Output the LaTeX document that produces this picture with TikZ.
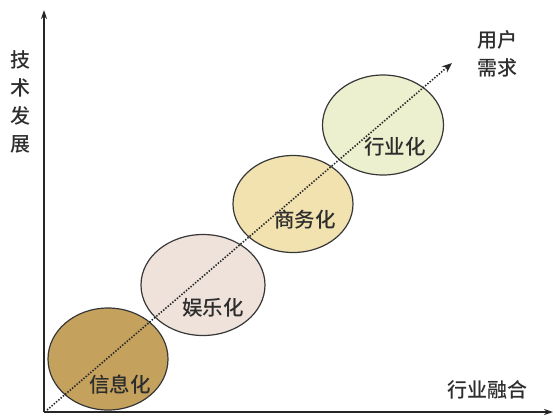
\documentclass[tikz,border=0pt]{standalone}
\usepackage{fontspec}
\usepackage{xcolor}
\usepackage{tikz}
\usetikzlibrary{shapes.geometric,arrows.meta}
\newfontfamily\cjk{Noto Sans CJK SC Medium}
\definecolor{xinxigold}{RGB}{196, 162, 94}
\definecolor{yulepink}{RGB}{238, 226, 219}
\definecolor{shangwutan}{RGB}{241, 226, 176}
\definecolor{hangyegreen}{RGB}{236, 240, 206}
\definecolor{rimgray}{RGB}{55, 55, 55}
\definecolor{textgray}{RGB}{45, 45, 45}

\begin{document}
\begin{tikzpicture}[
    x=1pt, y=-1pt,
    stage/.style={ellipse, draw=rimgray, line width=1.2pt, inner sep=0pt},
    stagetext/.style={font=\cjk\fontsize{20.5}{22}\selectfont, text=textgray, inner sep=0pt},
    axislabel/.style={font=\cjk\fontsize{20}{28}\selectfont, text=textgray, align=center, inner sep=0pt},
    axis/.style={-{Stealth[length=9pt, width=6pt]}, line width=2pt, black!85},
    trend/.style={-{Stealth[length=10pt, width=8pt]}, line width=1.6pt, dash pattern=on 1.4pt off 1.6pt, black!85}
]
    \useasboundingbox (0,0) rectangle (553,418);

    % Stages
    \node[stage, fill=xinxigold, minimum width=120, minimum height=102] (xinxi) at (108, 359) {};
    \node[stage, fill=yulepink, minimum width=124, minimum height=101] (yule) at (203, 285) {};
    \node[stage, fill=shangwutan, minimum width=120, minimum height=97] (shangwu) at (293, 204) {};
    \node[stage, fill=hangyegreen, minimum width=121, minimum height=100] (hangye) at (383, 125) {};

    % Axes
    \coordinate (origin) at (44, 412);
    \coordinate (ytop) at (44, 10);
    \coordinate (xend) at (553, 412);
    \coordinate (tstart) at (47, 410);
    \coordinate (ttip) at (452, 63);
    \draw[axis] (origin) -- (ytop);
    \draw[axis] (origin) -- (xend);
    \draw[trend] (tstart) -- (ttip);

    % Texts
    \node[stagetext] (xinxi_txt) at (120, 385) {信息化};
    \node[stagetext] (yule_txt) at (213, 308) {娱乐化};
    \node[stagetext] (shangwu_txt) at (305, 220) {商务化};
    \node[stagetext] (hangye_txt) at (395, 147) {行业化};

    \node[axislabel] (tech) at (20, 102) {技\\术\\发\\展};
    \node[axislabel] (need) at (497, 54) {用户\\需求};
    \node[axislabel] (merge) at (487, 390) {行业融合};

\end{tikzpicture}
\end{document}
